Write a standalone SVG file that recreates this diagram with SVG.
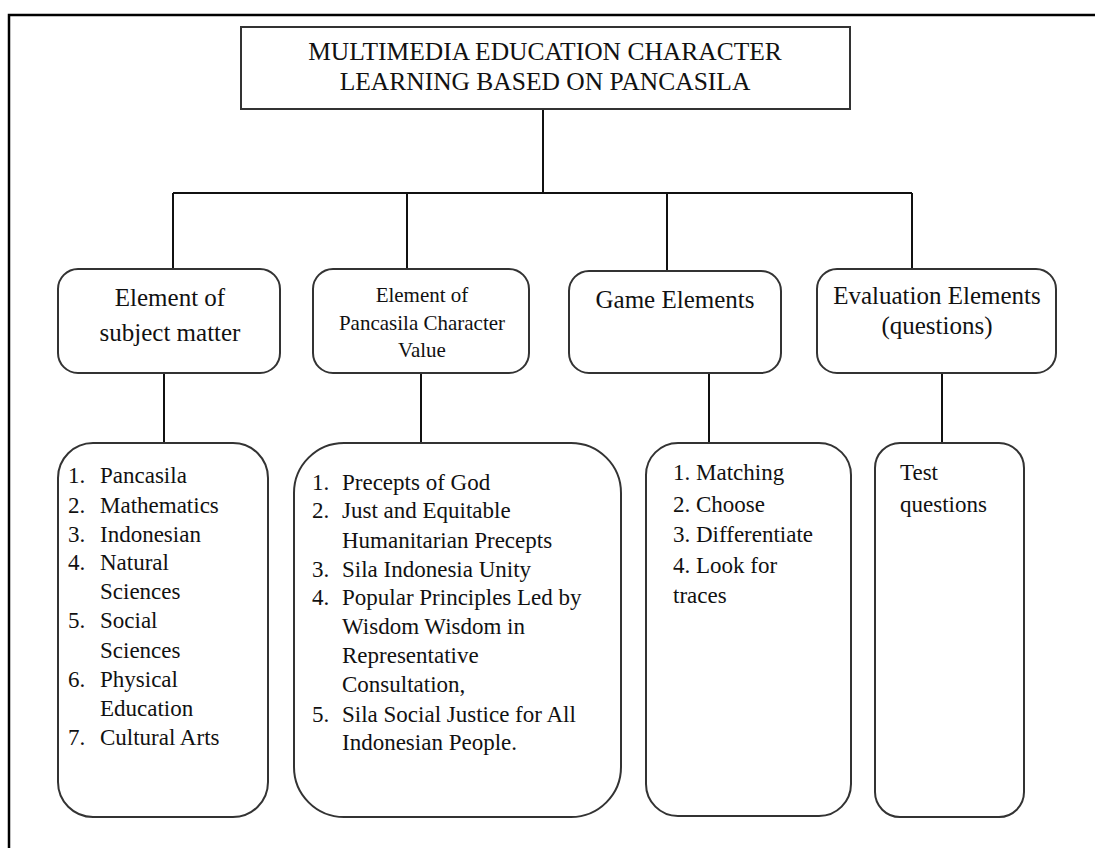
<svg xmlns="http://www.w3.org/2000/svg" width="1095" height="848" viewBox="0 0 1095 848">
<style>
  .frame{fill:none;stroke:#000;stroke-width:2.5}
  .box{fill:#fff;stroke:#333;stroke-width:2}
  .conn{fill:none;stroke:#111;stroke-width:2}
  text{fill:#111}
  .t{font-size:25.5px;text-anchor:middle}
  .h{font-size:25px;text-anchor:middle}
  .h2{font-size:21px;text-anchor:middle}
  .l{font-size:23px}
</style>
<rect x="0" y="0" width="1095" height="848" fill="#fff"/>
<path class="frame" d="M9,848 V15 H1095"/>
<g id="connectors">
  <path class="conn" d="M543,109 V193"/>
  <path class="conn" d="M173,193 H912"/>
  <path class="conn" d="M173,193 V269"/>
  <path class="conn" d="M407,193 V269"/>
  <path class="conn" d="M667,193 V271"/>
  <path class="conn" d="M912,193 V269"/>
  <path class="conn" d="M164,373 V443"/>
  <path class="conn" d="M421,373 V443"/>
  <path class="conn" d="M709,373 V443"/>
  <path class="conn" d="M942,373 V443"/>
</g>
<g font-family="Liberation Serif, Tinos, Times New Roman, DejaVu Serif, serif">
<g id="title">
  <rect class="box" x="241" y="27" width="609" height="82"/>
  <text class="t" x="545" y="60">MULTIMEDIA EDUCATION CHARACTER</text>
  <text class="t" x="545" y="90">LEARNING BASED ON PANCASILA</text>
</g>
<g id="el-subject">
  <rect class="box" x="58" y="269" width="222" height="104" rx="20"/>
  <text class="h" x="170" y="306">Element of</text>
  <text class="h" x="170" y="341">subject matter</text>
</g>
<g id="el-pancasila">
  <rect class="box" x="313" y="269" width="216" height="104" rx="20"/>
  <text class="h2" x="422" y="302">Element of</text>
  <text class="h2" x="422" y="330">Pancasila Character</text>
  <text class="h2" x="422" y="357">Value</text>
</g>
<g id="el-game">
  <rect class="box" x="569" y="271" width="212" height="102" rx="20"/>
  <text class="h" x="675" y="308">Game Elements</text>
</g>
<g id="el-eval">
  <rect class="box" x="817" y="269" width="239" height="104" rx="20"/>
  <text class="h" x="937" y="304" font-size="23.5">Evaluation Elements</text>
  <text class="h" x="937" y="334" font-size="23.5">(questions)</text>
</g>
<g id="list-subject">
  <rect class="box" x="58" y="443" width="210" height="374" rx="35"/>
  <text class="l" x="68" y="483">1.</text><text class="l" x="100" y="483">Pancasila</text>
  <text class="l" x="68" y="513">2.</text><text class="l" x="100" y="513">Mathematics</text>
  <text class="l" x="68" y="542">3.</text><text class="l" x="100" y="542">Indonesian</text>
  <text class="l" x="68" y="570">4.</text><text class="l" x="100" y="570">Natural</text>
  <text class="l" x="100" y="599">Sciences</text>
  <text class="l" x="68" y="628">5.</text><text class="l" x="100" y="628">Social</text>
  <text class="l" x="100" y="658">Sciences</text>
  <text class="l" x="68" y="687">6.</text><text class="l" x="100" y="687">Physical</text>
  <text class="l" x="100" y="716">Education</text>
  <text class="l" x="68" y="745">7.</text><text class="l" x="100" y="745">Cultural Arts</text>
</g>
<g id="list-pancasila">
  <rect class="box" x="294" y="443" width="327" height="374" rx="50"/>
  <text class="l" x="312" y="490">1.</text><text class="l" x="342" y="490">Precepts of God</text>
  <text class="l" x="312" y="518">2.</text><text class="l" x="342" y="518">Just and Equitable</text>
  <text class="l" x="342" y="548">Humanitarian Precepts</text>
  <text class="l" x="312" y="577">3.</text><text class="l" x="342" y="577">Sila Indonesia Unity</text>
  <text class="l" x="312" y="605">4.</text><text class="l" x="342" y="605">Popular Principles Led by</text>
  <text class="l" x="342" y="634">Wisdom Wisdom in</text>
  <text class="l" x="342" y="663">Representative</text>
  <text class="l" x="342" y="692">Consultation,</text>
  <text class="l" x="312" y="722">5.</text><text class="l" x="342" y="722">Sila Social Justice for All</text>
  <text class="l" x="342" y="750">Indonesian People.</text>
</g>
<g id="list-game">
  <rect class="box" x="646" y="443" width="205" height="373" rx="32"/>
  <text class="l" x="673" y="480">1. Matching</text>
  <text class="l" x="673" y="512">2. Choose</text>
  <text class="l" x="673" y="542">3. Differentiate</text>
  <text class="l" x="673" y="573">4. Look for</text>
  <text class="l" x="673" y="603">traces</text>
</g>
<g id="list-eval">
  <rect class="box" x="875" y="443" width="149" height="374" rx="25"/>
  <text class="l" x="900" y="480">Test</text>
  <text class="l" x="900" y="512">questions</text>
</g>
</g>
</svg>
